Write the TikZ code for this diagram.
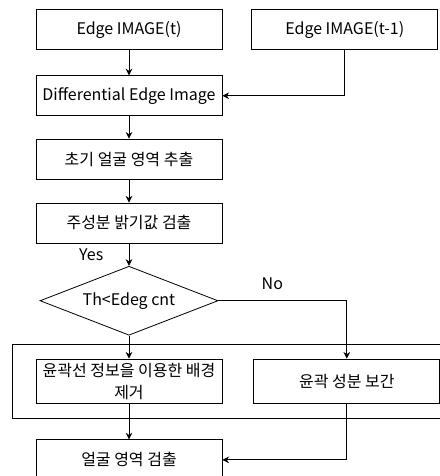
\documentclass[tikz,border=0pt]{standalone}
\usepackage{fontspec}
\setmainfont{Noto Sans CJK KR}
\usepackage{tikz}
\usetikzlibrary{positioning,arrows.meta,shapes.geometric,calc}
\tikzset{
    proc/.style={
        draw,
        line width=0.6pt,
        rectangle,
        minimum width=139.5pt,
        minimum height=30pt,
        align=center,
        inner sep=1pt,
        font=\fontsize{12}{16.5}\selectfont
    },
    proctall/.style={
        proc,
        minimum height=33pt
    },
    decide/.style={
        draw,
        line width=0.6pt,
        diamond,
        aspect=2.6,
        minimum width=133.5pt,
        minimum height=51.75pt,
        inner sep=0pt,
        align=center,
        font=\fontsize{12}{16.5}\selectfont
    },
    group/.style={
        draw,
        line width=0.6pt
    },
    flowline/.style={
        draw,
        line width=0.6pt,
        -{Stealth[length=5pt,width=5pt]}
    },
    lbl/.style={
        font=\fontsize{12}{16.5}\selectfont,
        inner sep=1pt
    }
}
\begin{document}
\begin{tikzpicture}[node distance=17pt and 22pt]
        \useasboundingbox (-96.75pt,22.125pt) rectangle (233.25pt,-334.875pt);

        \node[proc] (edget) at (0,0) {Edge IMAGE(t)};
        \node[proc, right=21.75pt of edget] (edgeprev) {Edge IMAGE(t-1)};
        \node[proc, below=19.1pt of edget] (diff) {Differential Edge Image};
        \node[proc, below=16.9pt of diff] (init) {초기 얼굴 영역 추출};
        \node[proc, below=17.25pt of init] (lum) {주성분 밝기값 검출};
        \node[decide, below=16.9pt of lum] (check) {Th<Edeg cnt};
        \node[proctall, below=17.25pt of check] (remove) {윤곽선 정보을 이용한 배경\\제거};
        \node[proctall, right=23.25pt of remove] (interp) {윤곽 성분 보간};
        \node[proc, below=27pt of remove] (face) {얼굴 영역 검출};

        \path[group] ($(remove.north west)+(-17.25pt,10.5pt)$) rectangle ($(interp.south east)+(1.5pt,-11.25pt)$);

        \path[flowline] (edget) -- (diff);
        \path[flowline] (edgeprev.south) |- (diff.east);
        \path[flowline] (diff) -- (init);
        \path[flowline] (init) -- (lum);
        \path[flowline] (lum) -- node[lbl, left=18pt]{Yes} (check);
        \path[flowline] (check.east) -| node[lbl, above=7pt, pos=0.21]{No} (interp.north);
        \path[flowline] (check.south) -- (remove.north);
        \path[flowline] (remove) -- (face);
        \path[flowline] (interp.south) |- (face.east);
    \end{tikzpicture}
\end{document}
